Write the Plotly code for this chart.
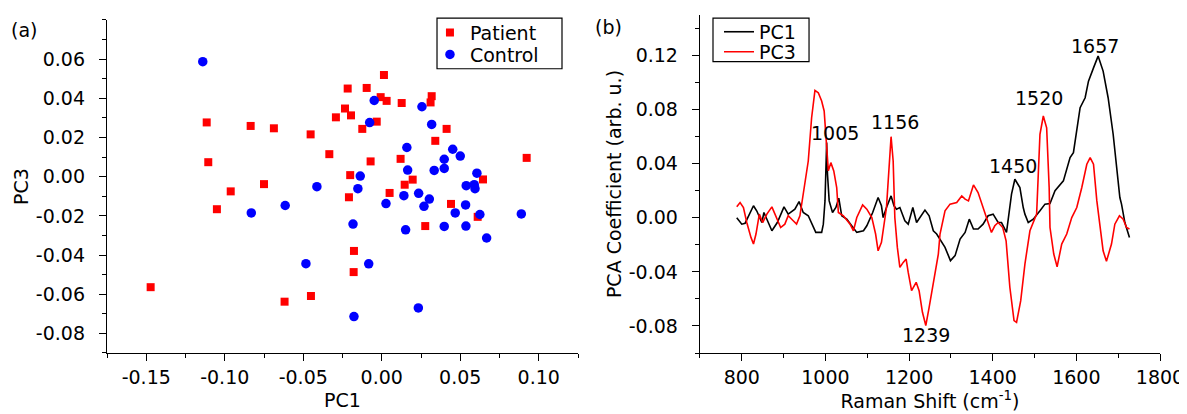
import plotly.graph_objects as go

# ---------------- data: panel (a) PCA scores ----------------
patient_pc1 = [-0.1115, -0.0835, -0.0687, -0.0453, -0.0292, -0.0334, -0.1105, -0.075, -0.0962,
               -0.105, -0.1472, -0.0619, -0.0451, 0.0014, -0.0217, -0.0096, -0.0007, 0.0031,
               0.0127, 0.0318, 0.0311, -0.0234, -0.0196, -0.0032, -0.0124, 0.0413, 0.0341,
               0.012, -0.0071, 0.0923, 0.0645, -0.0201, 0.0197, 0.0146, 0.005, -0.0209,
               0.0441, 0.0611, 0.0277, -0.0177, -0.0179]
patient_pc3 = [0.0277, 0.0259, 0.0247, 0.0216, 0.0303, 0.0115, 0.0074, -0.0038, -0.0075,
               -0.0166, -0.0564, -0.0638, -0.0609, 0.0519, 0.045, 0.0453, 0.0406, 0.0387,
               0.0376, 0.0411, 0.0379, 0.0348, 0.0313, 0.0281, 0.0244, 0.0244, 0.0183,
               0.0091, 0.0078, 0.0096, -0.0014, 0.0008, -0.0015, -0.0041, -0.0083, -0.0105,
               -0.0139, -0.0205, -0.0252, -0.0379, -0.0487]
control_pc1 = [-0.114, -0.0413, -0.0831, -0.0615, -0.0483, -0.0048, 0.0256, -0.0077, 0.0318,
               0.016, 0.0452, 0.05, 0.0398, 0.0165, 0.0334, 0.0398, 0.0606, -0.0137, -0.0152,
               0.0538, 0.0589, 0.0594, 0.0141, 0.0235, 0.0303, 0.0027, 0.0269, 0.0534, 0.0468,
               0.0625, 0.0889, -0.0183, 0.0152, 0.0398, 0.0536, 0.0668, -0.0083, 0.0233, -0.0177]
control_pc3 = [0.0587, -0.0051, -0.0185, -0.0147, -0.0444, 0.0389, 0.0357, 0.0276, 0.0267,
               0.0149, 0.014, 0.0105, 0.0089, 0.0034, 0.0032, 0.0042, 0.0018, 0.0003, -0.0061,
               -0.0046, -0.0041, -0.0061, -0.0097, -0.0085, -0.0114, -0.0137, -0.0151, -0.0144,
               -0.0185, -0.0193, -0.019, -0.0242, -0.0271, -0.0254, -0.0252, -0.0313, -0.0445,
               -0.067, -0.0714]

# ---------------- data: panel (b) loadings ----------------
pc1_shift = [788, 800, 808, 828, 836, 848, 853, 861, 872, 885, 901, 911, 927, 937, 947, 959,
             977, 991, 995, 999, 1003, 1005, 1009, 1017, 1025, 1032, 1039, 1051, 1067, 1075,
             1091, 1099, 1113, 1126, 1134, 1138, 1146, 1157, 1164, 1170, 1178, 1190, 1198,
             1209, 1218, 1226, 1238, 1248, 1258, 1266, 1286, 1299, 1310, 1322, 1334, 1344,
             1354, 1365, 1377, 1389, 1401, 1413, 1421, 1433, 1445, 1453, 1465, 1473, 1477,
             1485, 1497, 1513, 1525, 1537, 1549, 1569, 1585, 1593, 1601, 1609, 1621, 1629,
             1641, 1652, 1664, 1676, 1688, 1696, 1704, 1708, 1716, 1727]
pc1_coef = [0.0, -0.0047, -0.004, 0.0089, 0.005, -0.0035, 0.0039, -0.0022, -0.0096, -0.0035,
            0.0081, 0.0027, 0.0064, 0.012, 0.0039, 0.0015, -0.0108, -0.0108, -0.0047, 0.0125,
            0.0556, 0.032, 0.0125, 0.0039, 0.0076, 0.0145, 0.0015, -0.001, -0.0072, -0.0108,
            -0.0096, -0.0059, 0.0039, 0.015, 0.0089, 0.0002, 0.0076, 0.0162, 0.0089, 0.0064,
            0.0076, -0.0022, -0.0047, 0.0076, -0.0035, 0.0002, 0.0057, 0.0015, -0.0096,
            -0.012, -0.0219, -0.0317, -0.028, -0.0157, -0.0108, -0.001, -0.0083, -0.0083,
            -0.0047, 0.0015, 0.0027, -0.0035, -0.0035, -0.0108, 0.0175, 0.0285, 0.0224,
            0.0076, 0.0027, -0.0035, -0.001, 0.0052, 0.0101, 0.0105, 0.02, 0.0273, 0.0445,
            0.0482, 0.0666, 0.0814, 0.0888, 0.1011, 0.1109, 0.1196, 0.1085, 0.0888, 0.0618,
            0.0371, 0.015, 0.0101, -0.0035, -0.0145]

pc3_shift = [788, 796, 804, 812, 822, 828, 834, 842, 850, 860, 872, 883, 893, 903, 911, 923,
             931, 939, 947, 951, 959, 967, 975, 983, 991, 997, 1003, 1007, 1013, 1020, 1027,
             1031, 1043, 1059, 1067, 1075, 1089, 1099, 1111, 1120, 1126, 1134, 1146, 1153,
             1157, 1162, 1166, 1172, 1178, 1186, 1193, 1198, 1206, 1217, 1224, 1232, 1240,
             1248, 1258, 1270, 1274, 1286, 1298, 1314, 1326, 1334, 1342, 1354, 1365, 1377,
             1389, 1397, 1405, 1413, 1424, 1432, 1441, 1451, 1457, 1467, 1477, 1489, 1505,
             1513, 1521, 1529, 1535, 1537, 1546, 1554, 1565, 1577, 1589, 1601, 1613, 1625,
             1633, 1641, 1649, 1657, 1664, 1672, 1684, 1692, 1703, 1712, 1720, 1727]
pc3_coef = [0.0081, 0.0113, 0.0076, -0.0035, -0.0145, -0.0194, -0.012, 0.0027, -0.0035,
            0.0027, 0.0081, 0.0002, -0.0072, -0.0047, 0.0015, -0.0022, -0.0047, 0.0015,
            0.0175, 0.0224, 0.042, 0.074, 0.0942, 0.0925, 0.0864, 0.079, 0.0544, 0.0347,
            0.0408, 0.0347, 0.0224, 0.0039, 0.0015, -0.0047, -0.0096, 0.0002, 0.0096, 0.0064,
            0.0002, -0.012, -0.0244, -0.0182, 0.0076, 0.0445, 0.06, 0.042, 0.0, -0.0219,
            -0.0367, -0.033, -0.0305, -0.0404, -0.0539, -0.0477, -0.0539, -0.0699, -0.0797,
            -0.0662, -0.0489, -0.0268, -0.012, 0.0052, 0.0101, 0.0113, 0.0162, 0.0138,
            0.0125, 0.0243, 0.0187, 0.0076, -0.0047, -0.0108, -0.0059, -0.0035, -0.0072,
            -0.017, -0.0514, -0.076, -0.0773, -0.0613, -0.0342, -0.0096, 0.0027, 0.0618,
            0.0753, 0.0666, 0.0224, -0.0072, -0.0268, -0.0362, -0.0194, -0.012, 0.0002,
            0.0076, 0.0224, 0.0396, 0.0445, 0.0396, 0.0125, -0.0096, -0.0244, -0.0322,
            -0.0194, -0.0047, 0.0015, -0.001, -0.0072, -0.0083]

peak_labels = ["1005", "1156", "1450", "1520", "1657", "1239"]
peak_x = [1022, 1166, 1448, 1511, 1645, 1241]
peak_y = [0.063, 0.071, 0.0384, 0.0888, 0.1274, -0.087]

# tick labels
a_xticks = [-0.15, -0.10, -0.05, 0.00, 0.05, 0.10]
a_xtext = ["-0.15", "-0.10", "-0.05", "0.00", "0.05", "0.10"]
a_yticks = [-0.08, -0.06, -0.04, -0.02, 0.00, 0.02, 0.04, 0.06]
a_ytext = ["-0.08", "-0.06", "-0.04", "-0.02", "0.00", "0.02", "0.04", "0.06"]
b_xticks = [800, 1000, 1200, 1400, 1600, 1800]
b_xtext = ["800", "1000", "1200", "1400", "1600", "1800"]
b_yticks = [-0.08, -0.04, 0.00, 0.04, 0.08, 0.12]
b_ytext = ["-0.08", "-0.04", "0.00", "0.04", "0.08", "0.12"]

FONT = "DejaVu Sans"
FS = 19

fig = go.Figure()
fig.add_trace(go.Scatter(x=patient_pc1, y=patient_pc3, mode="markers", name="Patient",
                         marker=dict(symbol="square", size=8, color="#ff0000"),
                         xaxis="x", yaxis="y", legend="legend"))
fig.add_trace(go.Scatter(x=control_pc1, y=control_pc3, mode="markers", name="Control",
                         marker=dict(symbol="circle", size=9.5, color="#0000ff"),
                         xaxis="x", yaxis="y", legend="legend2"))
fig.add_trace(go.Scatter(x=pc1_shift, y=pc1_coef, mode="lines", name="PC1",
                         line=dict(color="black", width=1.6),
                         xaxis="x2", yaxis="y2", legend="legend3"))
fig.add_trace(go.Scatter(x=pc3_shift, y=pc3_coef, mode="lines", name="PC3",
                         line=dict(color="#ff0000", width=1.6),
                         xaxis="x2", yaxis="y2", legend="legend4"))

axis_common = dict(showgrid=False, zeroline=False, showline=True, linecolor="black",
                   linewidth=1.4, ticks="outside", ticklen=7, tickwidth=1.4, tickcolor="black",
                   tickfont=dict(family=FONT, size=FS, color="black"), automargin=False)
minor_common = dict(ticklen=4, tickwidth=1.4, tickcolor="black", ticks="outside", showgrid=False)


def leg(x, y):
    return dict(x=x, y=y, xanchor="left", yanchor="middle", borderwidth=0,
                bgcolor="rgba(0,0,0,0)", font=dict(family=FONT, size=FS, color="black"))


fig.update_layout(
    width=1179, height=406,
    margin=dict(l=99, r=27, t=5, b=61),
    plot_bgcolor="white", paper_bgcolor="white",
    font=dict(family=FONT, size=FS, color="black"),
    xaxis=dict(domain=[0, 0.4473], range=[-0.175, 0.125], tickvals=a_xticks, ticktext=a_xtext,
               minor=dict(dtick=0.025, tick0=0, **minor_common),
               title=dict(text="PC1", standoff=6, font=dict(family=FONT, size=FS)),
               anchor="y", **axis_common),
    yaxis=dict(domain=[0, 0.9853], range=[-0.09, 0.08], tickvals=a_yticks, ticktext=a_ytext,
               minor=dict(dtick=0.01, tick0=0, **minor_common), ticklabelstandoff=10,
               title=dict(text="PC3", standoff=2, font=dict(family=FONT, size=FS)),
               anchor="x", **axis_common),
    xaxis2=dict(domain=[0.5631, 1], range=[700, 1800], tickvals=b_xticks, ticktext=b_xtext,
                minor=dict(dtick=100, tick0=0, **minor_common),
                title=dict(text="Raman Shift (cm<sup>-1</sup>)", standoff=6,
                           font=dict(family=FONT, size=FS)),
                anchor="y2", **axis_common),
    yaxis2=dict(domain=[0, 1], range=[-0.10, 0.15], tickvals=b_yticks, ticktext=b_ytext,
                minor=dict(dtick=0.02, tick0=0, **minor_common), ticklabelstandoff=10,
                title=dict(text="PCA Coefficient (arb. u.)", standoff=2,
                           font=dict(family=FONT, size=FS)),
                anchor="x2", **axis_common),
    legend=leg(0.3067, 0.948),
    legend2=leg(0.3067, 0.883),
    legend3=leg(0.5812, 0.950),
    legend4=leg(0.5812, 0.891),
    showlegend=True,
)

# legend frames
fig.add_shape(type="rect", xref="paper", yref="paper", x0=0.3134, x1=0.4321, y0=0.841, y1=0.991,
              line=dict(color="black", width=1.2), fillcolor="white", layer="above")
fig.add_shape(type="rect", xref="paper", yref="paper", x0=0.5755, x1=0.6667, y0=0.862, y1=0.991,
              line=dict(color="black", width=1.2), fillcolor="white", layer="above")

for t, px, py in zip(peak_labels, peak_x, peak_y):
    fig.add_annotation(x=px, y=py, text=t, showarrow=False, xref="x2", yref="y2",
                       font=dict(family=FONT, size=FS, color="black"))

fig.add_annotation(x=-0.0788, y=0.956, xref="paper", yref="paper", text="(a)",
                   xanchor="center", yanchor="middle",
                   showarrow=False, font=dict(family=FONT, size=FS, color="black"))
fig.add_annotation(x=0.4758, y=0.965, xref="paper", yref="paper", text="(b)",
                   xanchor="center", yanchor="middle",
                   showarrow=False, font=dict(family=FONT, size=FS, color="black"))

fig.write_html("out.html")
